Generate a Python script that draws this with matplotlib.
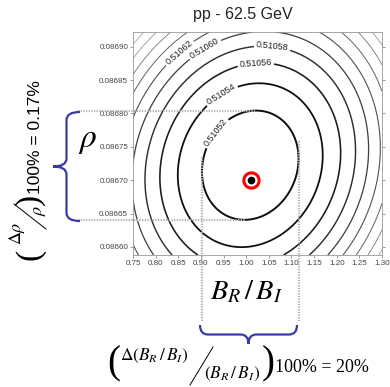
import numpy as np
import matplotlib
matplotlib.use("Agg")
import matplotlib.pyplot as plt
from matplotlib.path import Path
from matplotlib.patches import PathPatch
from matplotlib.lines import Line2D
from matplotlib.transforms import Affine2D

plt.rcParams["mathtext.fontset"] = "stix"
plt.rcParams["font.family"] = ["Liberation Sans", "DejaVu Sans"]

W, H = 390, 387

# ---- fit surface: quadratic bowl around the best-fit ratio / rho ----
fit_center = (1.009, 0.0867225)      # centre of the contour family (B_R/B_I, rho)
fit_width = (0.1067, 8.18e-5)        # half-extent of the 0.51052 contour
fit_corr = 0.12                      # tilt of the ellipses
fit_min = 0.510504                   # surface minimum
level_first = 0.51052
level_step = 0.00002
n_levels = 14

best_point = (1.01, 0.08670)         # marked fit result

x_ticks = [0.75, 0.80, 0.85, 0.90, 0.95, 1.00, 1.05, 1.10, 1.15, 1.20, 1.25, 1.30]
y_ticks = [0.08660, 0.08665, 0.08670, 0.08675, 0.08680, 0.08685, 0.08690]
x_range = (0.75, 1.30)
y_range = (0.086588, 0.086922)

# where the contour values are written (0.51052 ... 0.51062)
label_points = [(0.939, 0.086768), (0.948, 0.086825), (1.021, 0.086876),
                (1.058, 0.086903), (0.911, 0.086894), (0.856, 0.086888)]

fig = plt.figure(figsize=(W / 100, H / 100), dpi=100)
ax = fig.add_axes([133 / W, 1 - 255 / H, (382 - 133) / W, (255 - 32) / H])

# pixel-based transform for annotations placed around the axes
pix = Affine2D().scale(1 / W, -1 / H).translate(0, 1) + fig.transFigure

xs = np.linspace(x_range[0], x_range[1], 400)
ys = np.linspace(y_range[0], y_range[1], 400)
X, Y = np.meshgrid(xs, ys)
zx = (X - fit_center[0]) / fit_width[0]
zy = (Y - fit_center[1]) / fit_width[1]
Q = (zx ** 2 - 2 * fit_corr * zx * zy + zy ** 2) / (1 - fit_corr ** 2)
Z = fit_min + (level_first - fit_min) * Q

levels = level_first + level_step * np.arange(n_levels)
lws = np.clip(1.4 - 0.12 * np.arange(n_levels), 0.45, None)
cols = [plt.cm.Greys(min(0.95, 1.0 - 0.05 * i)) for i in range(n_levels)]
cs = ax.contour(X, Y, Z, levels=levels, colors=cols, linewidths=lws)
labels = ax.clabel(cs, levels=levels[:6], fmt="%.5f", fontsize=6.5, inline=True,
                   inline_spacing=2, manual=label_points)
for t in labels:
    t.set_color("#222222")

ax.set_xlim(*x_range)
ax.set_ylim(*y_range)
ax.set_xticks(x_ticks)
ax.set_xticklabels([f"{v:.2f}" for v in x_ticks])
ax.set_yticks(y_ticks)
ax.set_yticklabels([f"{v:.5f}" for v in y_ticks])
ax.tick_params(axis="both", labelsize=5.8, colors="#777777", labelcolor="#444444",
               length=2, width=0.5, pad=1.5, direction="out")
ax.tick_params(axis="y", right=True)
for s in ax.spines.values():
    s.set_color("#999999")
    s.set_linewidth(0.6)

# best-fit point
ax.plot(*best_point, "o", ms=11, mfc="white", mec="red", mew=2.2, zorder=5)
ax.plot(*best_point, "o", ms=4.5, color="black", zorder=6)

# guide lines at the extents of the innermost contour
guide = dict(color="#b4b4b4", lw=1.6, ls=(0, (0.6, 0.6)), clip_on=False, zorder=4)
x_lo = fit_center[0] - fit_width[0]
x_hi = fit_center[0] + fit_width[0]
y_lo = fit_center[1] - fit_width[1]
y_hi = fit_center[1] + fit_width[1]
ax.plot([0.629, 1.02], [y_hi, y_hi], **guide)
ax.plot([0.629, 1.00], [y_lo, y_lo], **guide)
ax.plot([x_lo, x_lo], [0.086735, 0.0864875], **guide)
ax.plot([x_hi, x_hi], [0.086758, 0.0864875], **guide)

blue = "#3a3aa6"


def brace_v(x_end, x_tip, y_top, y_bot, r=8):
    xm = (x_end + x_tip) / 2
    ym = (y_top + y_bot) / 2
    verts = [(x_end, y_top), (xm, y_top), (xm, y_top + r),
             (xm, ym - r), (xm, ym), (x_tip, ym),
             (xm, ym), (xm, ym + r),
             (xm, y_bot - r), (xm, y_bot), (x_end, y_bot)]
    codes = [Path.MOVETO, Path.CURVE3, Path.CURVE3,
             Path.LINETO, Path.CURVE3, Path.CURVE3,
             Path.CURVE3, Path.CURVE3,
             Path.LINETO, Path.CURVE3, Path.CURVE3]
    return Path(verts, codes)


def brace_h(y_end, y_tip, x_left, x_right, r=8):
    ym = (y_end + y_tip) / 2
    xm = (x_left + x_right) / 2
    verts = [(x_left, y_end), (x_left, ym), (x_left + r, ym),
             (xm - r, ym), (xm, ym), (xm, y_tip),
             (xm, ym), (xm + r, ym),
             (x_right - r, ym), (x_right, ym), (x_right, y_end)]
    codes = [Path.MOVETO, Path.CURVE3, Path.CURVE3,
             Path.LINETO, Path.CURVE3, Path.CURVE3,
             Path.CURVE3, Path.CURVE3,
             Path.LINETO, Path.CURVE3, Path.CURVE3]
    return Path(verts, codes)


fig.add_artist(PathPatch(brace_v(80, 53, 112, 221), fc="none", ec=blue, lw=1.6,
                         transform=pix))
fig.add_artist(PathPatch(brace_h(325, 344, 200, 297), fc="none", ec=blue, lw=1.6,
                         transform=pix))

# titles and labels
fig.text(243, 14, "pp - 62.5 GeV", transform=pix, ha="center", va="center",
         fontsize=11.5, color="#222222")
fig.text(88, 141, r"$\rho$", transform=pix, ha="center", va="center", fontsize=24)
fig.text(246, 292, r"$B_R\,/\,B_I$", transform=pix, ha="center", va="center",
         fontsize=20.5)

# bottom relative-error formula
serif = ["Liberation Serif", "DejaVu Serif"]
fig.text(114, 364, "(", transform=pix, ha="center", va="center", fontsize=28,
         family=serif)
fig.text(154, 356, r"$\mathrm{\Delta}(B_R\,/\,B_I)$", transform=pix, ha="center",
         va="center", fontsize=12.5)
fig.add_artist(Line2D([213, 190], [347, 385], transform=pix, color="black", lw=0.7))
fig.text(232, 374, r"$(B_R\,/\,B_I)$", transform=pix, ha="center", va="center",
         fontsize=12.5)
fig.text(268, 364, ")", transform=pix, ha="center", va="center", fontsize=28,
         family=serif)
fig.text(322, 367, "100% = 20%", transform=pix, ha="center", va="center",
         fontsize=13, family=serif)

# left relative-error formula (rotated, reads bottom to top)
fig.text(30, 254, "(", transform=pix, ha="center", va="center", fontsize=24,
         family=serif, rotation=90)
fig.text(17, 233, r"$\mathrm{\Delta}\rho$", transform=pix, ha="center", va="center",
         fontsize=13, rotation=90)
fig.add_artist(Line2D([14, 46], [204, 229], transform=pix, color="black", lw=0.7))
fig.text(39, 210, r"$\rho$", transform=pix, ha="center", va="center",
         fontsize=13, rotation=90)
fig.text(30, 199, ")", transform=pix, ha="center", va="center", fontsize=24,
         family=serif, rotation=90)
fig.text(36, 137, "100% = 0.17%", transform=pix, ha="center", va="center",
         fontsize=12.5, rotation=90)

fig.savefig("out.png", dpi=100)
